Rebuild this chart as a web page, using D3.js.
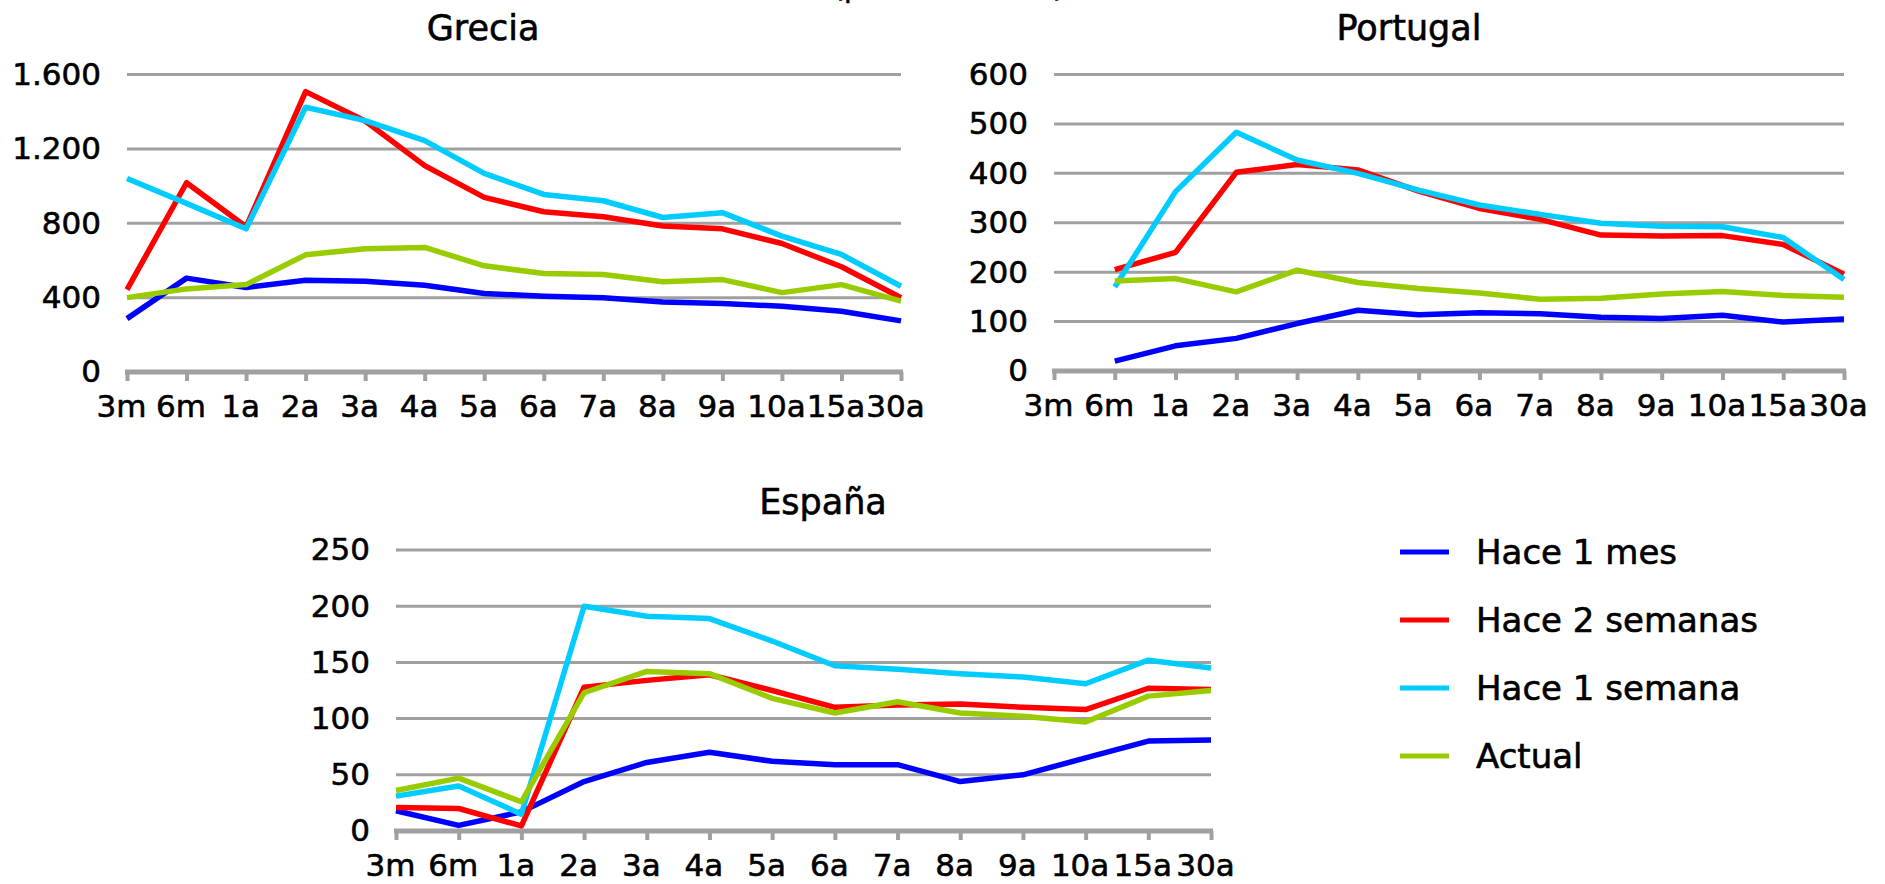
<!DOCTYPE html>
<html>
<head>
<meta charset="utf-8">
<script src="https://cdn.jsdelivr.net/npm/d3@7"></script>
<style>
  html, body { margin: 0; padding: 0; background: #ffffff; }
  svg { display: block; }
  text { font-family: "DejaVu Sans", "Verdana", sans-serif; fill: #000; stroke: #000; stroke-width: 0.6px; }
</style>
</head>
<body>
<svg id="chart" width="1885" height="884"></svg>
<script>
// Plazos de la curva
const categories = ["3m", "6m", "1a", "2a", "3a", "4a", "5a", "6a", "7a", "8a", "9a", "10a", "15a", "30a"];

// Series y colores
const seriesNames = ["Hace 1 mes", "Hace 2 semanas", "Hace 1 semana", "Actual"];
const seriesColors = ["#0000ff", "#ff0000", "#00ccff", "#99cc00"];

// Grecia (puntos básicos)
const greciaMes1   = [287, 505, 454, 494, 488, 467, 422, 408, 399, 377, 368, 354, 327, 275];
const greciaSem2   = [443, 1018, 781, 1508, 1350, 1110, 939, 862, 835, 785, 770, 691, 566, 399];
const greciaSem1   = [1041, 907, 770, 1424, 1352, 1244, 1068, 955, 921, 831, 857, 731, 632, 461];
const greciaActual = [400, 447, 470, 630, 663, 670, 571, 530, 524, 485, 497, 427, 470, 381];
const greciaTicks  = [0, 400, 800, 1200, 1600];

// Portugal (sin dato a 3 meses)
const portugalMes1   = [null, 20, 51, 66, 96, 123, 114, 118, 116, 109, 106, 113, 99, 105];
const portugalSem2   = [null, 205, 240, 402, 418, 407, 364, 329, 307, 275, 273, 274, 256, 196];
const portugalSem1   = [null, 170, 363, 483, 427, 400, 366, 336, 317, 299, 293, 292, 270, 185];
const portugalActual = [null, 182, 187, 160, 204, 179, 167, 158, 145, 147, 156, 161, 153, 149];
const portugalTicks  = [0, 100, 200, 300, 400, 500, 600];

// España
const espanaMes1   = [18, 5, 17, 44, 61, 70, 62, 59, 59, 44, 50, 65, 80, 81];
const espanaSem2   = [21, 20, 4.5, 128, 134, 139, 125, 110, 112, 113, 110, 108, 127, 126];
const espanaSem1   = [31, 40, 15, 200, 191, 189, 169, 147, 144, 140, 137, 131, 152, 145];
const espanaActual = [36, 47, 26, 123, 142, 140, 118, 105, 115, 105, 102, 97, 120, 125];
const espanaTicks  = [0, 50, 100, 150, 200, 250];

const svg = d3.select("#chart");
svg.append("rect").attr("width", 1885).attr("height", 884).attr("fill", "#ffffff");

// Separador de miles con punto
const es = d3.formatLocale({ decimal: ",", thousands: ".", grouping: [3], currency: ["", " €"] });
const fmt = es.format(",");

// Título general (recortado por el borde superior)
svg.append("text")
  .attr("x", 833).attr("y", -3)
  .style("font-size", "28px")
  .text("(puntos básicos)");

const panels = [
  { title: "Grecia", titleX: 483, titleY: 40, left: 127, right: 901, top: 74.5, bottom: 372,
    max: 1600, ticks: greciaTicks, data: [greciaMes1, greciaSem2, greciaSem1, greciaActual] },
  { title: "Portugal", titleX: 1409, titleY: 40, left: 1054, right: 1844, top: 74.5, bottom: 371,
    max: 600, ticks: portugalTicks, data: [portugalMes1, portugalSem2, portugalSem1, portugalActual] },
  { title: "España", titleX: 823, titleY: 514, left: 396, right: 1211, top: 550, bottom: 831,
    max: 250, ticks: espanaTicks, data: [espanaMes1, espanaSem2, espanaSem1, espanaActual] }
];

panels.forEach(p => {
  const g = svg.append("g");
  const x = d3.scalePoint().domain(categories).range([p.left, p.right]).padding(0);
  const y = d3.scaleLinear().domain([0, p.max]).range([p.bottom, p.top]);

  // Título del panel
  g.append("text")
    .attr("x", p.titleX).attr("y", p.titleY)
    .attr("text-anchor", "middle")
    .style("font-size", "35px")
    .text(p.title);

  // Líneas de cuadrícula
  g.selectAll("line.grid")
    .data(p.ticks.filter(t => t > 0))
    .join("line")
    .attr("class", "grid")
    .attr("x1", p.left).attr("x2", p.right)
    .attr("y1", d => y(d)).attr("y2", d => y(d))
    .attr("stroke", "#a0a0a0").attr("stroke-width", 3);

  // Eje vertical: etiquetas
  const yAxis = d3.axisLeft(y).tickValues(p.ticks).tickFormat(fmt).tickSize(0).tickPadding(26);
  const ya = g.append("g").attr("transform", `translate(${p.left},0)`).call(yAxis);
  ya.select(".domain").remove();
  ya.selectAll("text")
    .style("font-family", "'DejaVu Sans', sans-serif")
    .style("font-size", "31px")
    .attr("fill", "#000");

  // Eje horizontal
  const xAxis = d3.axisBottom(x).tickSize(9).tickPadding(14).tickSizeOuter(0);
  const xa = g.append("g").attr("transform", `translate(0,${p.bottom})`).call(xAxis);
  xa.select(".domain").attr("stroke", "#a0a0a0").attr("stroke-width", 5).attr("d", `M${p.left - 2},0H${p.right + 2}`);
  xa.selectAll(".tick line").attr("stroke", "#a0a0a0").attr("stroke-width", 4);
  xa.selectAll("text")
    .style("font-family", "'DejaVu Sans', sans-serif")
    .style("font-size", "31px")
    .attr("fill", "#000")
    .attr("dx", "-6");

  // Series
  const line = d3.line()
    .defined(d => d != null)
    .x((d, i) => x(categories[i]))
    .y(d => y(d));

  p.data.forEach((vals, k) => {
    g.append("path")
      .attr("d", line(vals))
      .attr("fill", "none")
      .attr("stroke", seriesColors[k])
      .attr("stroke-width", 5.5)
      .attr("stroke-linejoin", "round");
  });
});

// Leyenda
const legend = svg.append("g");
const legendY = d3.scalePoint().domain(seriesNames).range([552, 756]);
seriesNames.forEach((name, k) => {
  legend.append("line")
    .attr("x1", 1400).attr("x2", 1449)
    .attr("y1", legendY(name)).attr("y2", legendY(name))
    .attr("stroke", seriesColors[k]).attr("stroke-width", 5);
  legend.append("text")
    .attr("x", 1476).attr("y", legendY(name))
    .attr("dy", "0.36em")
    .style("font-size", "34px")
    .text(name);
});
</script>
</body>
</html>
